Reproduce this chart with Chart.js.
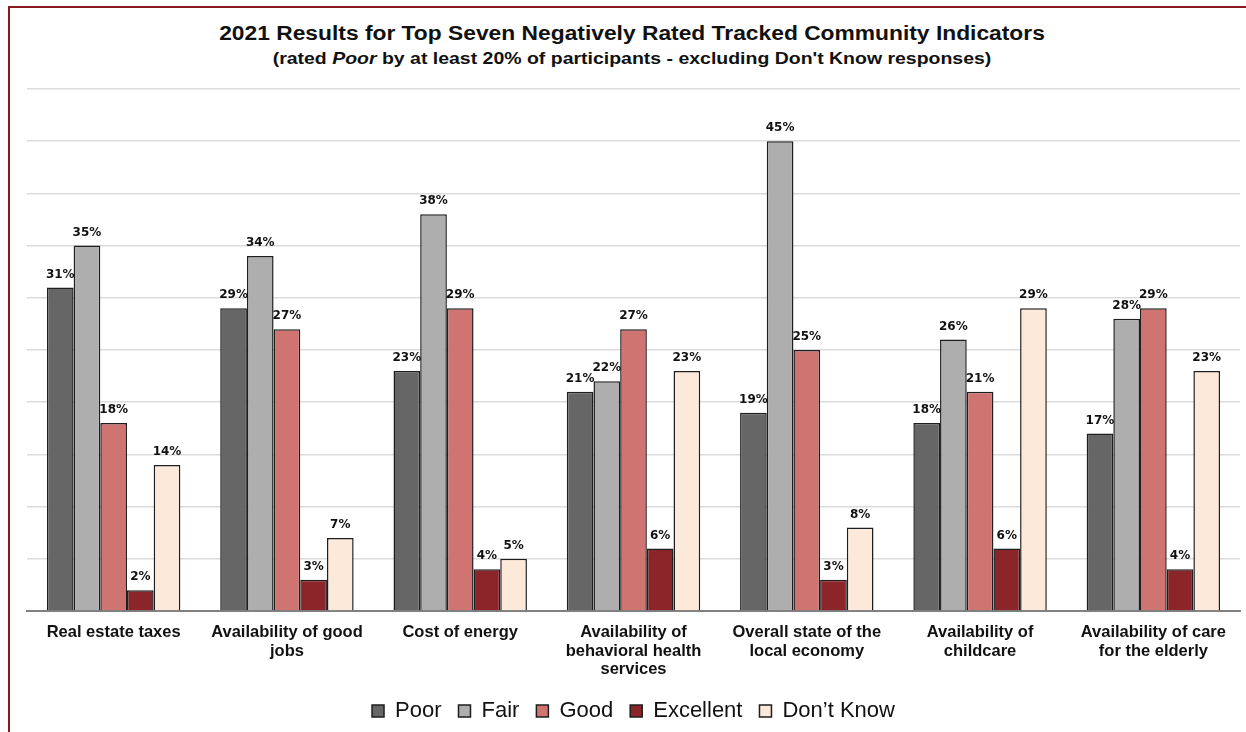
<!DOCTYPE html>
<html>
<head>
<meta charset="utf-8">
<script src="https://cdn.jsdelivr.net/npm/chart.js@4.4.1/dist/chart.umd.min.js"></script>
<style>
  body { margin: 0; background: #fff; }
  #wrap { position: relative; width: 1246px; height: 732px; overflow: hidden; font-family: "Liberation Sans", Arial, sans-serif; }
  #frame { position: absolute; left: 8px; top: 6px; right: -4px; bottom: -4px; border-top: 2px solid #8b1a1f; border-left: 2px solid #8b1a1f; }
  #title, #subtitle { position: absolute; left: 0; width: 1264px; text-align: center; font-weight: bold; color: #111; transform-origin: 632px 0; }
  #title { top: 22px; font-size: 20px; transform: scaleX(1.14); }
  #subtitle { top: 49px; font-size: 16.5px; transform: scaleX(1.18); }
  canvas { position: absolute; left: 0; top: 0; }
</style>
</head>
<body>
<div id="wrap">
  <div id="frame"></div>
  <div id="title">2021 Results for Top Seven Negatively Rated Tracked Community Indicators</div>
  <div id="subtitle">(rated <i>Poor</i> by at least 20% of participants - excluding Don't Know responses)</div>
  <canvas id="resultsChart" width="1246" height="732"></canvas>
</div>
<script>
const categories = [
    ['Real estate taxes'],
    ['Availability of good', 'jobs'],
    ['Cost of energy'],
    ['Availability of', 'behavioral health', 'services'],
    ['Overall state of the', 'local economy'],
    ['Availability of', 'childcare'],
    ['Availability of care', 'for the elderly']
];

const poor      = [31, 29, 23, 21, 19, 18, 17];
const fair      = [35, 34, 38, 22, 45, 26, 28];
const good      = [18, 27, 29, 27, 25, 21, 29];
const excellent = [2, 3, 4, 6, 3, 6, 4];
const dontKnow  = [14, 7, 5, 23, 8, 29, 23];

const seriesNames = ['Poor', 'Fair', 'Good', 'Excellent', 'Don\u2019t Know'];
const seriesColors = ['#666666', '#aeaeae', '#d07472', '#8b252a', '#fde9d9'];

// percent labels above each bar
const barLabels = {
    id: 'barLabels',
    afterDatasetsDraw(chart) {
        const ctx = chart.ctx;
        ctx.save();
        ctx.font = 'bold 12px "DejaVu Sans", sans-serif';
        ctx.fillStyle = '#111';
        ctx.textAlign = 'center';
        ctx.textBaseline = 'bottom';
        chart.data.datasets.forEach((ds, i) => {
            chart.getDatasetMeta(i).data.forEach((bar, j) => {
                ctx.fillText(ds.data[j] + '%', bar.x, bar.y - 7);
            });
        });
        ctx.restore();
    }
};

const series = [poor, fair, good, excellent, dontKnow];

new Chart(document.getElementById('resultsChart').getContext('2d'), {
    type: 'bar',
    data: {
        labels: categories,
        datasets: series.map((values, i) => ({
            label: seriesNames[i],
            data: values,
            backgroundColor: seriesColors[i],
            borderColor: '#1e1e1e',
            borderWidth: 1.5,
            borderSkipped: 'bottom',
            categoryPercentage: 0.77,
            barPercentage: 1.0
        }))
    },
    options: {
        responsive: false,
        animation: false,
        layout: { padding: { top: 89, left: 27, right: 6, bottom: 0 } },
        scales: {
            x: {
                grid: { display: false },
                border: { color: '#808080', width: 2 },
                ticks: {
                    color: '#111',
                    font: { family: '"Liberation Sans", Arial, sans-serif', weight: 'bold', size: 16.5, lineHeight: 1.13 },
                    maxRotation: 0,
                    autoSkip: false,
                    padding: 4
                }
            },
            y: {
                min: 0,
                max: 50,
                ticks: { display: false, stepSize: 5 },
                grid: { color: '#dcdcdc', lineWidth: 1.5, drawTicks: false },
                border: { display: false }
            }
        },
        plugins: {
            legend: {
                position: 'bottom',
                labels: {
                    color: '#111',
                    font: { family: '"Liberation Sans", Arial, sans-serif', size: 22 },
                    boxWidth: 12,
                    boxHeight: 12,
                    padding: 17
                }
            },
            tooltip: { enabled: false }
        }
    },
    plugins: [barLabels]
});
</script>
</body>
</html>
